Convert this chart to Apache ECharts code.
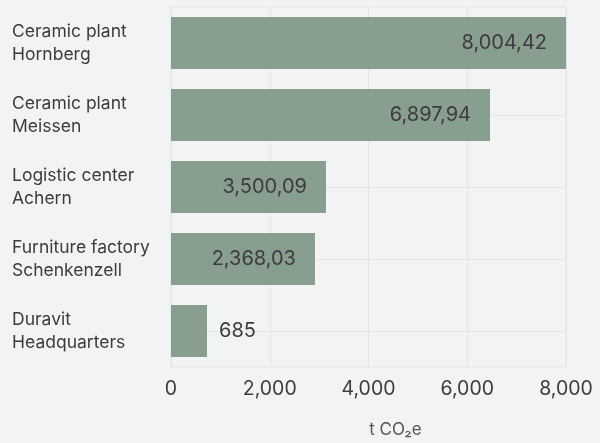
<!DOCTYPE html>
<html>
<head>
<meta charset="utf-8">
<script src="https://cdn.jsdelivr.net/npm/echarts@6/dist/echarts.min.js"></script>
<style>
  html, body { margin: 0; padding: 0; background: #f2f4f3; }
  #chart { width: 600px; height: 443px; }
</style>
</head>
<body>
<div id="chart"></div>
<script>
// sites, top to bottom
const sites = [
  'Ceramic plant\nHornberg',
  'Ceramic plant\nMeissen',
  'Logistic center\nAchern',
  'Furniture factory\nSchenkenzell',
  'Duravit\nHeadquarters'
]
// bar lengths as drawn (t CO2e)
const barValues = [8004.42, 6461, 3139, 2916, 729]
// printed value labels
const valueLabels = ['8,004,42', '6,897,94', '3,500,09', '2,368,03', '685']
const xTicks = [0, 2000, 4000, 6000, 8000]

const textColor = '#3c3c3c'
const gridColor = '#e3e5e4'
const font = 'Inter, "Noto Sans", sans-serif'

const chart = echarts.init(document.getElementById('chart'))

chart.setOption({
  backgroundColor: '#f2f4f3',
  animation: false,
  grid: {
    left: 171,
    right: 34,
    top: 7,
    bottom: 73,
    show: true,
    borderColor: gridColor,
    borderWidth: 1
  },
  xAxis: {
    type: 'value',
    min: xTicks[0],
    max: xTicks[xTicks.length - 1],
    interval: 2000,
    name: 't CO₂e',
    nameLocation: 'middle',
    nameGap: 54,
    nameTextStyle: {
      color: '#555',
      fontSize: 17,
      fontFamily: font,
      padding: [0, 0, 0, 54]
    },
    axisLine: { show: false },
    axisTick: { show: false },
    splitLine: { lineStyle: { color: gridColor, width: 1 } },
    axisLabel: {
      color: textColor,
      fontSize: 19.5,
      fontFamily: font,
      margin: 12,
      formatter: v => v.toLocaleString('en-US')
    }
  },
  yAxis: {
    type: 'category',
    inverse: true,
    data: sites,
    axisLine: { show: false },
    axisTick: { show: false },
    splitLine: { show: false },
    axisLabel: {
      color: textColor,
      fontSize: 17.5,
      fontFamily: font,
      lineHeight: 23,
      align: 'left',
      padding: [4, 0, 0, 0],
      margin: 159
    }
  },
  series: [{
    type: 'bar',
    barWidth: 52,
    itemStyle: { color: '#889e8e' },
    label: {
      show: true,
      position: 'insideRight',
      distance: 19,
      color: textColor,
      fontSize: 20,
      fontFamily: font,
      formatter: p => valueLabels[p.dataIndex]
    },
    data: barValues.map((v, i) => {
      // last bar is too short for an inside label
      if (i === barValues.length - 1) {
        return { value: v, label: { position: 'right', distance: 12 } }
      }
      return v
    }),
    markLine: {
      silent: true,
      z: 1,
      symbol: 'none',
      label: { show: false },
      lineStyle: { color: gridColor, width: 1, type: 'solid' },
      data: sites.map(s => ({ yAxis: s }))
    }
  }]
})
</script>
</body>
</html>
